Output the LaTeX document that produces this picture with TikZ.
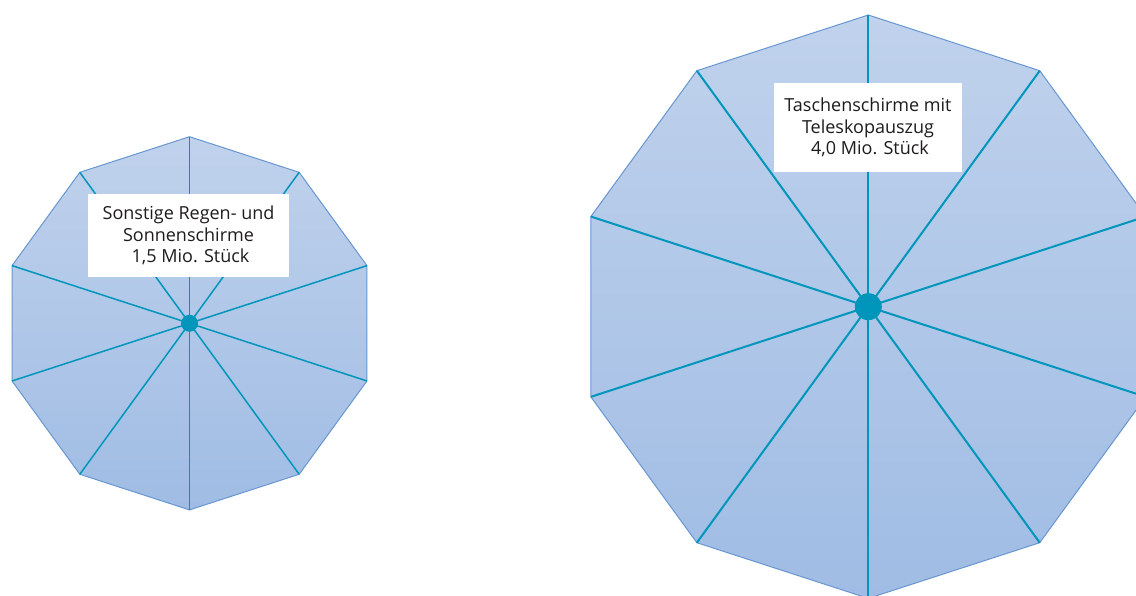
\documentclass[tikz,border=0pt]{standalone}
\usepackage{fontspec}
\setmainfont{Open Sans}
\definecolor{clothtop}{RGB}{192,210,236}
\definecolor{clothbot}{RGB}{160,188,228}
\definecolor{rim}{RGB}{104,150,208}
\definecolor{spoke}{RGB}{0,150,188}
\definecolor{labeltext}{RGB}{30,28,28}

\begin{document}
\begin{tikzpicture}[x=1pt,y=-1pt,
    canopy/.style={draw=rim, line width=1pt, top color=clothtop, bottom color=clothbot},
    rib/.style={draw=spoke, line width=1.5pt},
    tag/.style={fill=white, inner sep=0pt, align=center, text=labeltext,
        font=\fontsize{18}{21.7}\selectfont}]
    \useasboundingbox (0,0) rectangle (1136,596);

    % kleiner Schirm
    \coordinate (s) at (189.5,323.3);
    \foreach \k in {0,...,9}
        \path (s) ++(90+36*\k:186.6) coordinate (s\k);
    \path[canopy] (s0) \foreach \k in {1,...,9}{ -- (s\k)} -- cycle;
    \foreach \k in {0,...,9}
        \draw[rib] (s) -- (s\k);
    \fill[spoke] (s) circle (8.5);
    \node[tag, minimum width=201, minimum height=83] (small) at (188.5,235.5)
        {Sonstige Regen- und\\Sonnenschirme\\\hspace{4pt}1,5 Mio. Stück};

    % grosser Schirm
    \coordinate (b) at (868.3,306.7);
    \foreach \k in {0,...,9}
        \path (b) ++(90+36*\k:291.7) coordinate (b\k);
    \path[canopy] (b0) \foreach \k in {1,...,9}{ -- (b\k)} -- cycle;
    \foreach \k in {0,...,9}
        \draw[rib, line width=2pt] (b) -- (b\k);
    \fill[spoke] (b) circle (13.5);
    \node[tag, minimum width=188, minimum height=89] (big) at (868,127.5)
        {Taschenschirme mit\\Teleskopauszug\\\hspace{4pt}4,0 Mio. Stück};
\end{tikzpicture}
\end{document}
